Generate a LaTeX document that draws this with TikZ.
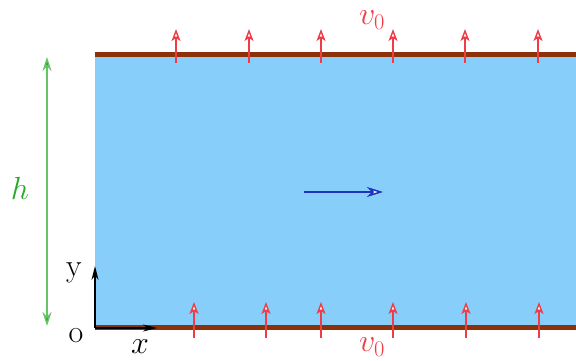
\RequirePackage{fix-cm}
\documentclass[tikz,border=0pt]{standalone}
\usepackage{fontspec}
\usetikzlibrary{arrows.meta}
\definecolor{fluid}{RGB}{135,206,250}
\definecolor{wall}{RGB}{140,50,10}
\definecolor{vred}{RGB}{240,60,70}
\definecolor{hgreen}{RGB}{40,170,40}
\definecolor{flow}{RGB}{30,50,190}
\tikzset{
  vel/.style={draw=vred, line width=1.4pt, -{Stealth[length=12pt,width=9pt,inset=3pt,fill=white]}},
  wallline/.style={draw=wall, line width=5pt},
  lab/.style={font=\fontsize{32}{36}\selectfont, inner sep=0pt},
}
\begin{document}
\begin{tikzpicture}[x=1pt,y=-1pt]
\useasboundingbox (0,0) rectangle (576,361);
\fill[fluid] (95,55) rectangle (576,328);
\draw[wallline] (95,55) -- (576,55);
\draw[wallline] (95,327) -- (576,327);
% top arrows
\foreach \xx [count=\i] in {176,249,321,393,465,538}{
  \coordinate (t\i a) at (\xx,63);
  \coordinate (t\i b) at (\xx,29);
  \draw[vel] (t\i a) -- (t\i b);
}
\foreach \xx [count=\i] in {194,266,321,393,466,539}{
  \coordinate (b\i a) at (\xx,338);
  \coordinate (b\i b) at (\xx,302);
  \draw[vel] (b\i a) -- (b\i b);
}
\node[lab, text=vred] (vt) at (372,20) {$v_0$};
\node[lab, text=vred] (vb) at (372,347) {$v_0$};
% h
\coordinate (ha) at (47,57);
\coordinate (hb) at (47,326);
\draw[draw=hgreen!70, line width=1.3pt, {Stealth[length=14pt,width=9pt,fill=hgreen]}-{Stealth[length=14pt,width=9pt,fill=hgreen]}] (ha) -- (hb);
\node[lab, text=hgreen] (h) at (20,188) {$h$};
% flow arrow
\coordinate (fa) at (304,192);
\coordinate (fb) at (383,192);
\draw[draw=flow, line width=1.5pt, -{Stealth[length=16pt,width=10pt,inset=5pt,fill=white]}] (fa) -- (fb);
% axes
\coordinate (o) at (95,328);
\coordinate (yt) at (95,266);
\coordinate (xt) at (157,328);
\draw[line width=1.4pt, -{Stealth[length=14pt,width=7pt]}] (o) -- (yt);
\draw[line width=1.4pt, -{Stealth[length=14pt,width=7pt]}] (o) -- (xt);
\node[lab] (ylab) at (74,273) {y};
\node[lab] (olab) at (76,336) {o};
\node[lab] (xlab) at (140,347) {$x$};
\end{tikzpicture}
\end{document}
